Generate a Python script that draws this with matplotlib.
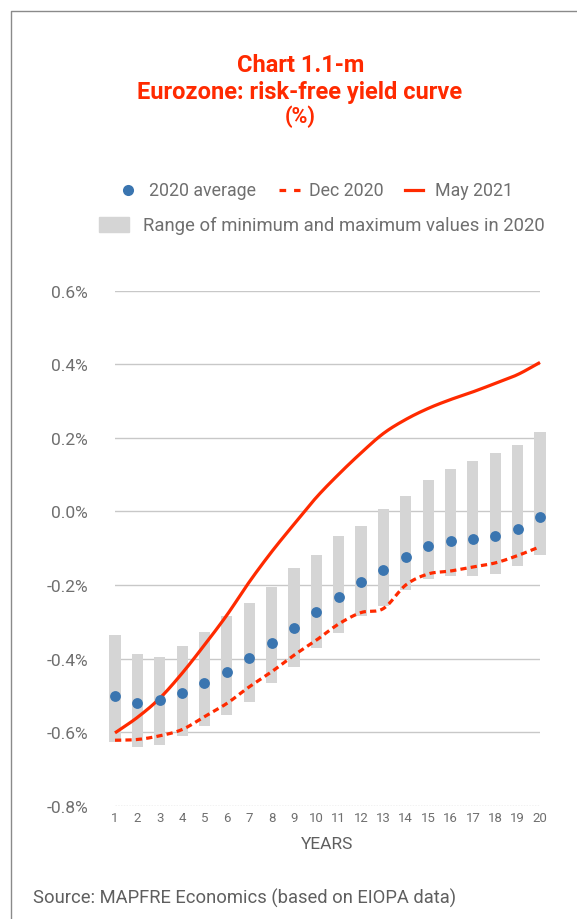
import numpy as np
import matplotlib
matplotlib.use("Agg")
import matplotlib.pyplot as plt
from matplotlib.lines import Line2D
from matplotlib.patches import Rectangle

plt.rcParams['font.family'] = ['Roboto', 'DejaVu Sans']
plt.rcParams['lines.scale_dashes'] = False

# ---- data -------------------------------------------------------------
years = list(range(1, 21))
range_max = [-0.336, -0.388, -0.395, -0.366, -0.327, -0.285, -0.248, -0.205, -0.153, -0.119,
             -0.067, -0.040, 0.006, 0.042, 0.085, 0.115, 0.136, 0.158, 0.180, 0.216]
range_min = [-0.626, -0.640, -0.635, -0.610, -0.583, -0.554, -0.518, -0.466, -0.422, -0.371,
             -0.330, -0.284, -0.257, -0.214, -0.184, -0.175, -0.175, -0.170, -0.148, -0.119]
avg_2020 = [-0.501, -0.520, -0.514, -0.493, -0.467, -0.437, -0.398, -0.357, -0.317, -0.273,
            -0.234, -0.192, -0.159, -0.123, -0.094, -0.080, -0.075, -0.068, -0.049, -0.015]
dec_2020 = [-0.622, -0.620, -0.610, -0.593, -0.558, -0.522, -0.477, -0.436, -0.391, -0.350,
            -0.306, -0.275, -0.264, -0.200, -0.170, -0.162, -0.151, -0.140, -0.120, -0.096]
may_2021 = [-0.602, -0.560, -0.508, -0.440, -0.363, -0.282, -0.192, -0.110, -0.035, 0.038,
            0.101, 0.159, 0.212, 0.250, 0.280, 0.304, 0.325, 0.348, 0.372, 0.405]
y_ticks = [-0.8, -0.6, -0.4, -0.2, 0.0, 0.2, 0.4, 0.6]

RED = '#ff2a00'
BLUE = '#3a75b0'
BAR = '#d5d5d5'
GRID = '#c8c8c8'
TXT = '#6f6f6f'

W, H = 577, 920


def fx(x):
    return x / W


def fy(y):
    return 1 - y / H


def smooth(x, y, n=24):
    """Catmull-Rom smoothing through the given points."""
    x = np.asarray(x, float)
    y = np.asarray(y, float)
    px = np.concatenate([[2 * x[0] - x[1]], x, [2 * x[-1] - x[-2]]])
    py = np.concatenate([[2 * y[0] - y[1]], y, [2 * y[-1] - y[-2]]])
    xs, ys = [], []
    t = np.linspace(0, 1, n, endpoint=False)
    for i in range(1, len(px) - 2):
        for arr, out in ((px, xs), (py, ys)):
            p0, p1, p2, p3 = arr[i - 1], arr[i], arr[i + 1], arr[i + 2]
            out.extend(0.5 * ((2 * p1) + (-p0 + p2) * t
                              + (2 * p0 - 5 * p1 + 4 * p2 - p3) * t ** 2
                              + (-p0 + 3 * p1 - 3 * p2 + p3) * t ** 3))
    xs.append(x[-1])
    ys.append(y[-1])
    return np.array(xs), np.array(ys)


fig = plt.figure(figsize=(W / 100, H / 100), dpi=100)
ax = fig.add_axes([fx(115), fy(806.7), fx(540) - fx(115), fy(291.7) - fy(806.7)])

# grid lines (bottom one is drawn as a dotted axis line)
for t in y_ticks:
    if t > y_ticks[0]:
        ax.axhline(t, color=GRID, lw=1.0, zorder=0)
ax.axhline(y_ticks[0], color='#9a9a9a', lw=0.9, ls=(0, (1, 1)), zorder=0)

# min-max range bars
heights = np.array(range_max) - np.array(range_min)
ax.bar(years, heights, bottom=range_min, width=0.5, color=BAR, zorder=1, clip_on=False)

# curves
sx, sy = smooth(years, dec_2020)
ax.plot(sx, sy, color=RED, lw=2.3, dashes=(4.5, 3.0), zorder=2, clip_on=False)
sx, sy = smooth(years, may_2021)
ax.plot(sx, sy, color=RED, lw=2.3, zorder=3, clip_on=False, solid_capstyle='butt')

ax.plot(years, avg_2020, 'o', color=BLUE, ms=7.8, mec='none', zorder=4, clip_on=False)

ax.set_xlim(1, 20)
ax.set_ylim(-0.8, 0.6)
ax.set_xticks(years)
ax.set_xticklabels([str(v) for v in years])
ax.set_yticks(y_ticks)
ax.set_yticklabels([f'{v:.1f}%' for v in y_ticks])
ax.tick_params(axis='y', length=0, pad=19.5, labelsize=12.5, labelcolor=TXT)
ax.tick_params(axis='x', length=0, pad=4, labelsize=9.5, labelcolor=TXT)
for s in ax.spines.values():
    s.set_visible(False)
ax.set_facecolor('none')

# title block
fig.text(fx(301), fy(65), 'Chart 1.1-m', ha='center', va='center',
         fontsize=17, fontweight='bold', color=RED)
fig.text(fx(300), fy(93), 'Eurozone: risk-free yield curve', ha='center', va='center',
         fontsize=17, fontweight='bold', color=RED)
fig.text(fx(300), fy(117), '(%)', ha='center', va='center',
         fontsize=15.5, fontweight='bold', color=RED)

# legend
ly1, ly2 = 191, 225.5
fig.add_artist(Line2D([fx(128)], [fy(ly1)], marker='o', ms=8, color=BLUE, mec='none',
                      transform=fig.transFigure))
fig.text(fx(149), fy(ly1), '2020 average', va='center', fontsize=12.8, color=TXT)
fig.add_artist(Line2D([fx(278.5), fx(300)], [fy(ly1), fy(ly1)], color=RED, lw=2.3,
                      dashes=(4.8, 5.7), transform=fig.transFigure))
fig.text(fx(309), fy(ly1), 'Dec 2020', va='center', fontsize=12.8, color=TXT)
fig.add_artist(Line2D([fx(405), fx(423)], [fy(ly1), fy(ly1)], color=RED, lw=2.3,
                      transform=fig.transFigure))
fig.text(fx(435), fy(ly1), 'May 2021', va='center', fontsize=12.8, color=TXT)
fig.add_artist(Rectangle((fx(99), fy(233.3)), fx(129) - fx(99), fy(217.7) - fy(233.3),
                         color=BAR, transform=fig.transFigure))
fig.text(fx(143), fy(ly2), 'Range of minimum and maximum values in 2020', va='center',
         fontsize=13.3, color=TXT)

# axis title and source
fig.text(fx(327), fy(845), 'YEARS', ha='center', va='center', fontsize=12.5, color='#5f5f5f')
fig.text(fx(33), fy(898), 'Source: MAPFRE Economics (based on EIOPA data)', va='center',
         fontsize=13.2, color='#5f5f5f')

# frame
fig.add_artist(Line2D([fx(11.5), fx(11.5), fx(W)], [fy(H), fy(11.5), fy(11.5)],
                      color='#8a8a8a', lw=1.0, transform=fig.transFigure))

fig.savefig('out.png', dpi=100)
